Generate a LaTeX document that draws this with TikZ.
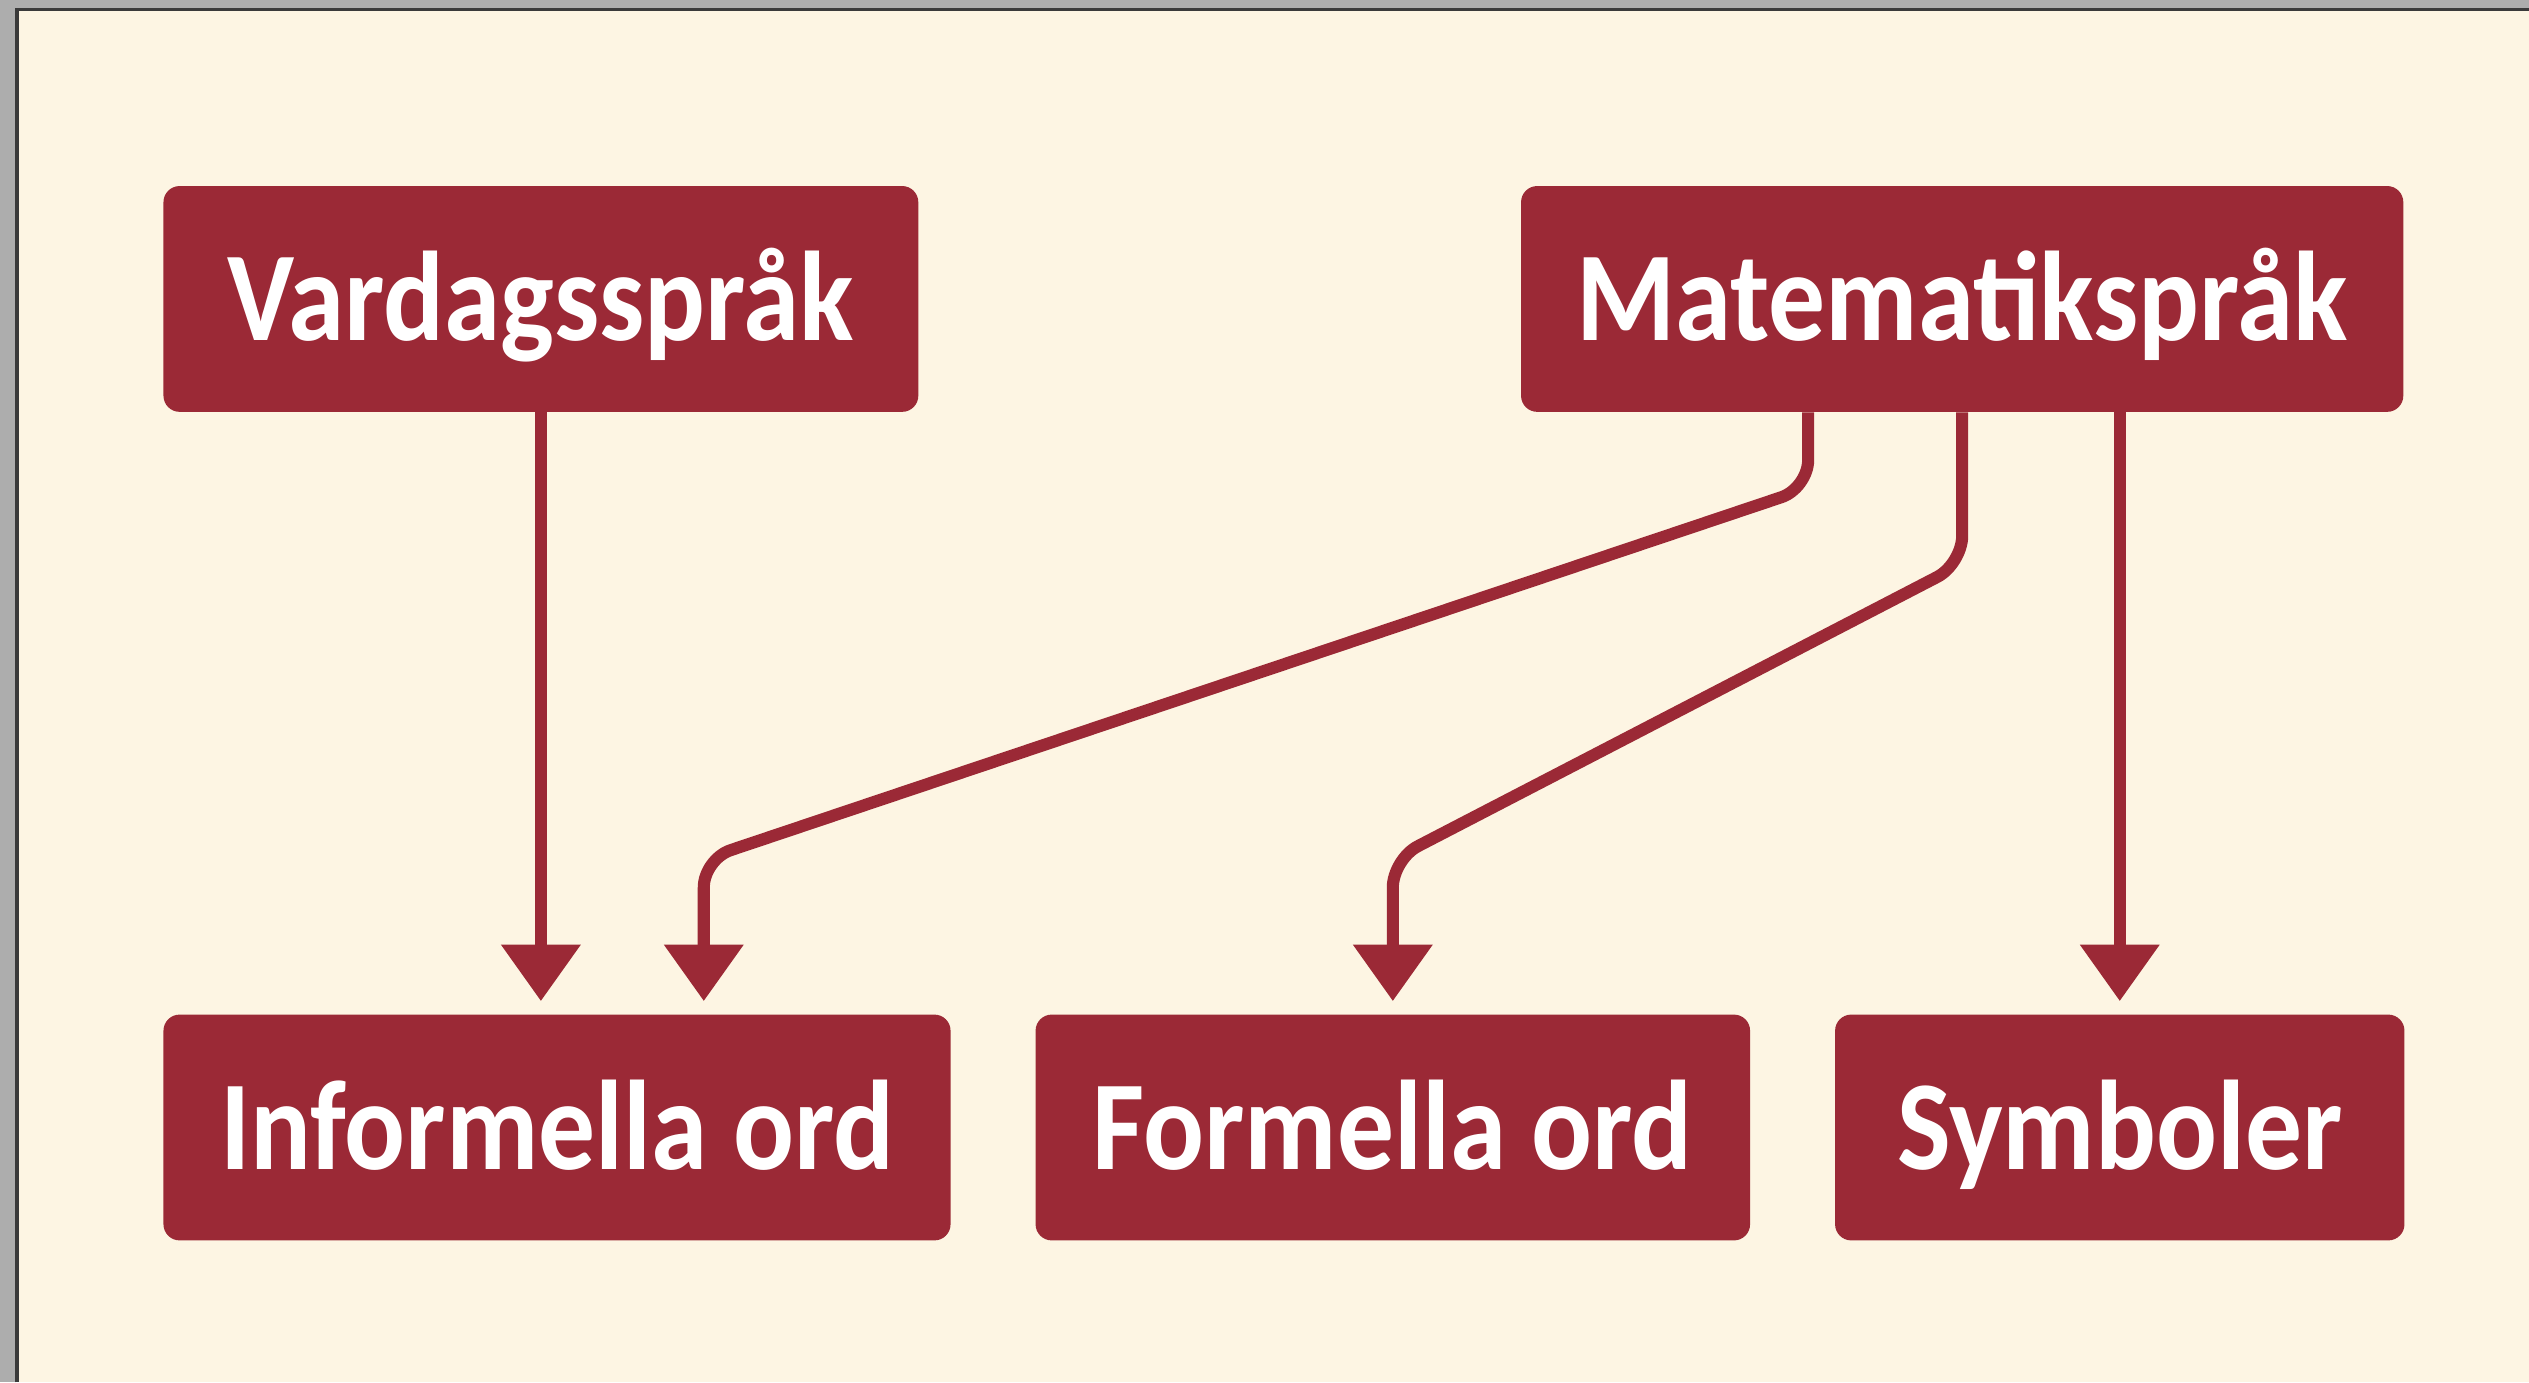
\documentclass[tikz,border=0pt]{standalone}
\usepackage{fontspec}
\setmainfont{Carlito}[FakeStretch=0.89]
\usetikzlibrary{positioning,arrows.meta}
\definecolor{boxred}{HTML}{9B2936}
\definecolor{cream}{HTML}{FDF5E3}
\definecolor{framegray}{HTML}{ADADAD}
\definecolor{frameline}{HTML}{3A3A3A}
\begin{document}
\begin{tikzpicture}[node distance=1cm]
        \tikzstyle{arrow} = [line width=0.15cm, color=boxred, -{Triangle[width=0.95cm,length=0.7cm]}, shorten >=0.16cm]
        \tikzstyle{lang} = [rectangle, rounded corners=0.2cm, minimum height=2.8cm, inner sep=0pt, text height=1.04cm, text depth=0pt, text centered, fill=boxred, text=white, font=\fontsize{45}{54}\selectfont\bfseries]

        % page and frame
        \useasboundingbox (0,0) rectangle (31.36,17.14);
        \fill [framegray] (0,0) rectangle (31.36,17.14);
        \fill [cream] (0.21,0) rectangle (31.36,17.02);
        \draw [frameline, line width=0.04cm] (0.21,0) -- (0.21,17.02) -- (31.36,17.02);

        \node (vard) [lang, minimum width=9.36cm, anchor=north west] at (2.02,14.84) {Vardagsspråk};
        \node (mat) [lang, minimum width=10.94cm, right=7.46cm of vard] {Matematikspråk};
        \node (inf) [lang, minimum width=9.76cm, below=7.46cm of vard.south west, anchor=north west] {Informella ord};
        \node (form) [lang, minimum width=8.86cm, right=1.04cm of inf] {Formella ord};
        \node (sym) [lang, minimum width=7.06cm, right=1.04cm of form] {Symboler};

        \draw [arrow] (vard.south) -- (vard.south |- inf.north);
        \draw [arrow] ([xshift=-1.91cm]mat.south) [rounded corners=0.35cm] -- ++(0,-0.94) -- ([xshift=1.82cm, yshift=1.92cm]inf.north) -- ([xshift=1.82cm]inf.north) [sharp corners];
        \draw [arrow] (mat.south) [rounded corners=0.35cm] -- ++(0,-1.88) -- ([yshift=1.92cm]form.north) -- (form.north) [sharp corners];
        \draw [arrow] (sym.north |- mat.south) -- (sym.north);

    \end{tikzpicture}
\end{document}
